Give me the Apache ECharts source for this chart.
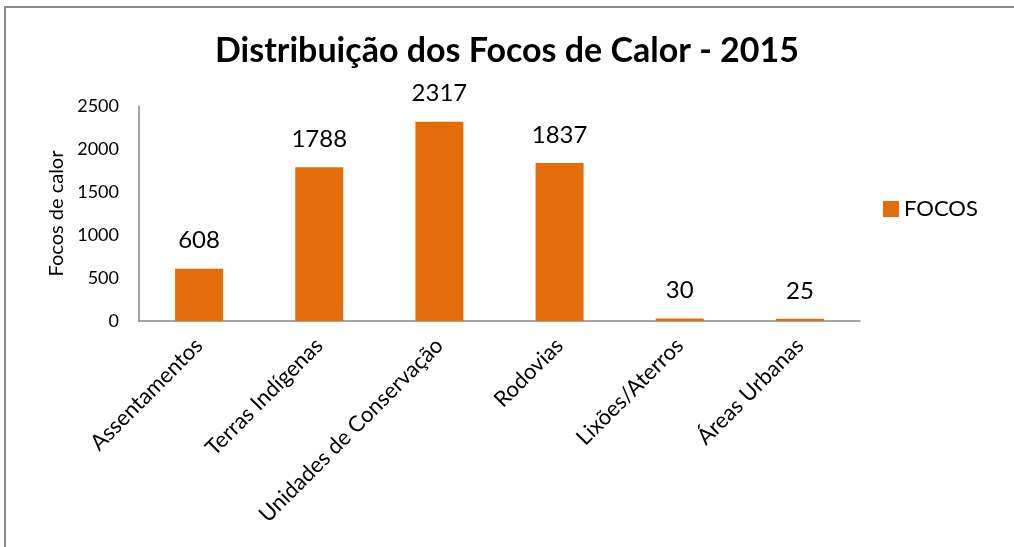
<!DOCTYPE html>
<html>
<head>
<meta charset="utf-8">
<script src="https://cdn.jsdelivr.net/npm/echarts@6/dist/echarts.min.js"></script>
<style>
html, body { margin: 0; padding: 0; background: #fff; }
#chart { width: 1014px; height: 547px; }
</style>
</head>
<body>
<div id="chart"></div>
<script>
const categorias = ['Assentamentos', 'Terras Indígenas', 'Unidades de Conservação', 'Rodovias', 'Lixões/Aterros', 'Áreas Urbanas'];
const focos = [608, 1788, 2317, 1837, 30, 25];

const fonte = 'Lato, "Liberation Sans", sans-serif';

window.focosChart = echarts.init(document.getElementById('chart'));

window.focosChart.setOption({
    animation: false,
    backgroundColor: '#fff',
    textStyle: { fontFamily: fonte },
    graphic: [{
        type: 'rect',
        shape: { x: 5, y: 7, width: 1100, height: 700 },
        style: { fill: 'none', stroke: '#8c8c8c', lineWidth: 2 },
        silent: true
    }],
    title: {
        text: 'Distribuição dos Focos de Calor - 2015',
        left: 'center',
        top: 29,
        textStyle: { fontFamily: fonte, fontSize: 34, fontWeight: 'bold', color: '#000' }
    },
    legend: {
        data: ['FOCOS'],
        orient: 'vertical',
        left: 878,
        top: 193,
        itemWidth: 16,
        itemHeight: 16,
        icon: 'rect',
        itemGap: 6,
        textStyle: { fontFamily: fonte, fontSize: 22, color: '#000' }
    },
    grid: { left: 139, top: 106, right: 154, bottom: 226, containLabel: false },
    xAxis: {
        type: 'category',
        data: categorias,
        axisLine: { lineStyle: { color: '#868686', width: 1.5 } },
        axisTick: { show: false },
        axisLabel: {
            rotate: 45,
            interval: 0,
            margin: 21,
            fontFamily: fonte,
            fontSize: 22,
            color: '#000'
        }
    },
    yAxis: {
        type: 'value',
        min: 0,
        max: 2500,
        interval: 500,
        name: 'Focos de calor',
        nameLocation: 'middle',
        nameGap: 71,
        nameRotate: 90,
        nameTextStyle: { fontFamily: fonte, fontSize: 20, color: '#000' },
        axisLine: { show: true, lineStyle: { color: '#868686', width: 1.5 } },
        axisTick: { show: false },
        splitLine: { show: false },
        axisLabel: {
            margin: 20,
            fontFamily: fonte,
            fontSize: 18,
            color: '#000',
            formatter: v => String(v)
        }
    },
    series: [{
        name: 'FOCOS',
        type: 'bar',
        data: focos,
        barWidth: 48,
        itemStyle: { color: '#E46C0A' },
        label: {
            show: true,
            position: 'top',
            distance: 16,
            fontFamily: fonte,
            fontSize: 24,
            color: '#000'
        }
    }]
});

window.addEventListener('resize', () => {
    window.focosChart.resize();
});
</script>
</body>
</html>
